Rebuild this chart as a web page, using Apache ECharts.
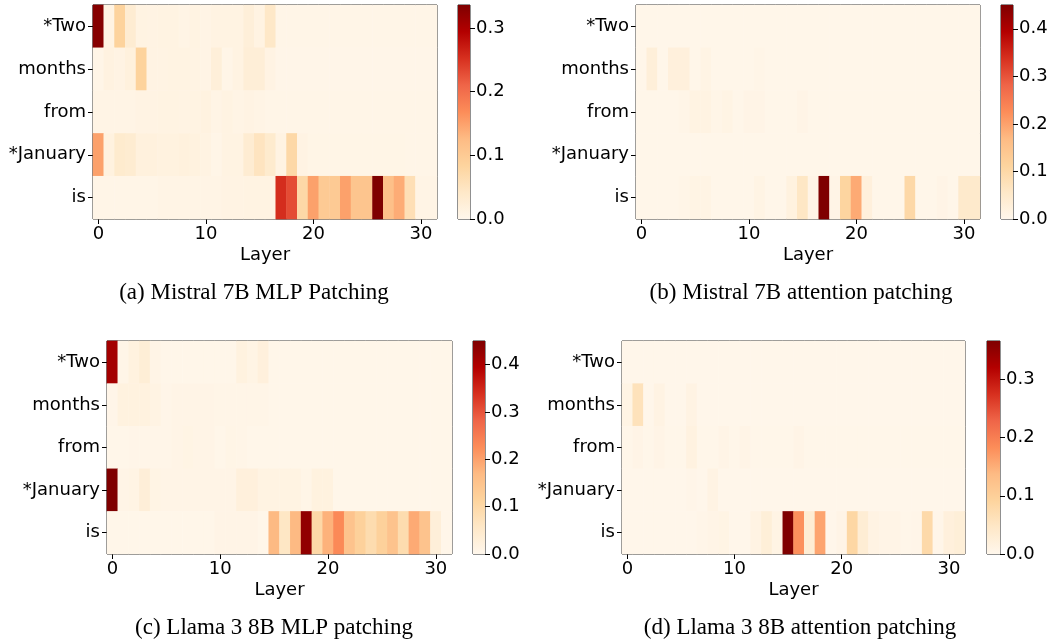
<!DOCTYPE html>
<html>
<head>
<meta charset="utf-8">
<script src="https://cdn.jsdelivr.net/npm/echarts@6/dist/echarts.min.js"></script>
<style>
html,body{margin:0;padding:0;background:#fff;}
#chart{width:1052px;height:644px;}
</style>
</head>
<body>
<div id="chart"></div>
<script>
// ---- DATA ----
const tokens = ['*Two', 'months', 'from', '*January', 'is'];
const layers = ['0','1','2','3','4','5','6','7','8','9','10','11','12','13','14','15','16','17','18','19','20','21','22','23','24','25','26','27','28','29','30','31'];
const layerTicks = ['0', '10', '20', '30'];

// (a) Mistral 7B MLP patching — rows: *Two, months, from, *January, is
const mistralMlp = [
  [0.33,0.012,0.085,0.03,0.012,0.01,0.012,0.012,0.008,0.012,0.008,0.012,0.012,0.012,0.022,0.012,0.042,0.006,0.006,0.006,0.006,0.006,0.006,0.006,0.006,0.006,0.006,0.006,0.006,0.006,0.006,0.006],
  [0.006,0.014,0.01,0.018,0.085,0.01,0.01,0.012,0.012,0.01,0.008,0.022,0.006,0.012,0.025,0.025,0.01,0.005,0.005,0.005,0.005,0.005,0.005,0.005,0.005,0.005,0.005,0.005,0.005,0.005,0.005,0.005],
  [0.008,0.008,0.008,0.008,0.01,0.01,0.012,0.012,0.01,0.012,0.014,0.008,0.012,0.008,0.01,0.008,0.006,0.006,0.006,0.006,0.006,0.006,0.006,0.006,0.006,0.006,0.006,0.006,0.006,0.006,0.006,0.006],
  [0.15,0.015,0.035,0.032,0.018,0.018,0.015,0.015,0.018,0.015,0.012,0.006,0.012,0.012,0.03,0.05,0.035,0.012,0.075,0.01,0.007,0.007,0.007,0.007,0.007,0.007,0.007,0.007,0.007,0.006,0.006,0.006],
  [0.006,0.006,0.006,0.006,0.006,0.006,0.008,0.008,0.008,0.008,0.008,0.008,0.01,0.01,0.012,0.012,0.012,0.255,0.23,0.075,0.15,0.1,0.1,0.15,0.11,0.11,0.336,0.118,0.14,0.06,0.008,0.008]
];
// (b) Mistral 7B attention patching
const mistralAttn = [
  [0.004,0.004,0.004,0.004,0.004,0.004,0.004,0.004,0.004,0.004,0.004,0.004,0.004,0.004,0.004,0.004,0.004,0.004,0.004,0.004,0.004,0.004,0.004,0.004,0.004,0.004,0.004,0.004,0.004,0.004,0.004,0.004],
  [0.004,0.03,0.004,0.025,0.025,0.004,0.012,0.005,0.005,0.005,0.005,0.008,0.004,0.004,0.004,0.004,0.004,0.004,0.004,0.004,0.004,0.004,0.004,0.004,0.004,0.004,0.004,0.004,0.004,0.004,0.004,0.004],
  [0.004,0.004,0.004,0.004,0.008,0.015,0.015,0.008,0.012,0.005,0.01,0.01,0.005,0.005,0.005,0.01,0.004,0.004,0.004,0.004,0.004,0.004,0.004,0.004,0.004,0.004,0.004,0.004,0.004,0.004,0.004,0.004],
  [0.004,0.004,0.004,0.004,0.004,0.004,0.004,0.004,0.004,0.004,0.004,0.004,0.004,0.004,0.005,0.005,0.005,0.005,0.005,0.005,0.005,0.005,0.005,0.005,0.005,0.005,0.005,0.005,0.005,0.005,0.005,0.005],
  [0.004,0.004,0.004,0.004,0.008,0.012,0.012,0.005,0.005,0.005,0.005,0.012,0.005,0.005,0.02,0.06,0.01,0.45,0.01,0.11,0.19,0.025,0.005,0.005,0.005,0.1,0.005,0.005,0.01,0.005,0.05,0.05]
];
// (c) Llama 3 8B MLP patching
const llamaMlp = [
  [0.41,0.008,0.02,0.035,0.01,0.005,0.005,0.005,0.005,0.005,0.005,0.005,0.02,0.012,0.025,0.004,0.004,0.004,0.004,0.004,0.004,0.004,0.004,0.004,0.004,0.004,0.004,0.004,0.004,0.004,0.004,0.004],
  [0.006,0.02,0.02,0.02,0.014,0.006,0.01,0.01,0.01,0.01,0.008,0.008,0.008,0.008,0.008,0.004,0.004,0.004,0.004,0.004,0.004,0.004,0.004,0.004,0.004,0.004,0.004,0.004,0.004,0.004,0.004,0.004],
  [0.004,0.004,0.006,0.006,0.006,0.006,0.01,0.013,0.01,0.01,0.005,0.009,0.008,0.004,0.004,0.004,0.004,0.004,0.004,0.004,0.004,0.004,0.004,0.004,0.004,0.004,0.004,0.004,0.004,0.004,0.004,0.004],
  [0.45,0.01,0.013,0.032,0.013,0.01,0.01,0.01,0.01,0.01,0.01,0.01,0.025,0.025,0.015,0.015,0.015,0.015,0.008,0.02,0.02,0.005,0.005,0.005,0.005,0.005,0.005,0.005,0.005,0.005,0.005,0.005],
  [0.005,0.005,0.005,0.005,0.005,0.005,0.005,0.005,0.005,0.005,0.01,0.01,0.01,0.01,0.005,0.17,0.06,0.17,0.43,0.1,0.18,0.23,0.15,0.12,0.09,0.12,0.15,0.09,0.19,0.15,0.03,0.005]
];
// (d) Llama 3 8B attention patching
const llamaAttn = [
  [0.003,0.003,0.003,0.003,0.003,0.003,0.003,0.003,0.003,0.003,0.003,0.003,0.003,0.003,0.003,0.003,0.003,0.003,0.003,0.003,0.003,0.003,0.003,0.003,0.003,0.003,0.003,0.003,0.003,0.003,0.003,0.003],
  [0.01,0.06,0.003,0.012,0.003,0.003,0.012,0.003,0.003,0.003,0.003,0.003,0.003,0.003,0.003,0.003,0.003,0.003,0.003,0.003,0.003,0.003,0.003,0.003,0.003,0.003,0.003,0.003,0.003,0.003,0.003,0.003],
  [0.004,0.008,0.004,0.008,0.004,0.004,0.015,0.004,0.004,0.008,0.004,0.008,0.004,0.004,0.004,0.004,0.008,0.004,0.004,0.004,0.004,0.004,0.004,0.004,0.004,0.004,0.004,0.004,0.004,0.004,0.004,0.004],
  [0.003,0.003,0.003,0.003,0.003,0.003,0.005,0.003,0.012,0.003,0.003,0.003,0.003,0.003,0.003,0.003,0.003,0.003,0.003,0.003,0.003,0.003,0.003,0.003,0.003,0.003,0.003,0.003,0.003,0.003,0.003,0.003],
  [0.003,0.003,0.003,0.003,0.003,0.003,0.003,0.005,0.008,0.01,0.003,0.003,0.012,0.025,0.01,0.366,0.18,0.03,0.16,0.003,0.008,0.085,0.03,0.012,0.008,0.008,0.004,0.005,0.08,0.005,0.02,0.025]
];

const colorMax = [0.336, 0.45, 0.45, 0.366];
const colorTicks = [0.0, 0.1, 0.2, 0.3, 0.4];
const captions = ['(a) Mistral 7B MLP Patching', '(b) Mistral 7B attention patching', '(c) Llama 3 8B MLP patching', '(d) Llama 3 8B attention patching'];

// ---- STYLE / LAYOUT ----
const OrRd = ['#fff7ec','#fee8c8','#fdd49e','#fdbb84','#fc8d59','#ef6548','#d7301f','#b30000','#7f0000'];
const panels = [mistralMlp, mistralAttn, llamaMlp, llamaAttn];
const heatGrids = [
  {left: 93, top: 5, width: 344, height: 214},
  {left: 636, top: 5, width: 344, height: 214},
  {left: 107, top: 341, width: 345, height: 213},
  {left: 622, top: 341, width: 343, height: 213}
];
const barGrids = [
  {left: 458, top: 5, width: 12, height: 214},
  {left: 1001, top: 5, width: 12, height: 214},
  {left: 473, top: 341, width: 12, height: 213},
  {left: 987, top: 341, width: 13, height: 213}
];
const capPos = [[254, 293], [801, 293], [274, 628], [800, 628]];
const FONT = 'DejaVu Sans';

const grid = [], xAxis = [], yAxis = [], series = [], visualMap = [], graphic = [];
const tickShow = (i) => layerTicks.indexOf(layers[i]) >= 0;

panels.forEach((m, p) => {
  grid.push(Object.assign({show: true, borderColor: '#000', borderWidth: 1, containLabel: false}, heatGrids[p]));
  xAxis.push({
    type: 'category', gridIndex: p, data: layers,
    axisLine: {show: false},
    axisTick: {show: true, alignWithLabel: true, length: 5, interval: (i) => tickShow(i), lineStyle: {color: '#000'}},
    axisLabel: {interval: (i) => tickShow(i), color: '#000', fontFamily: FONT, fontSize: 18, margin: 6},
    name: 'Layer', nameLocation: 'middle', nameGap: 27,
    nameTextStyle: {color: '#000', fontFamily: FONT, fontSize: 18},
    splitLine: {show: false}
  });
  yAxis.push({
    type: 'category', gridIndex: p, data: tokens, inverse: true,
    axisLine: {show: false},
    axisTick: {show: true, alignWithLabel: true, length: 5, lineStyle: {color: '#000'}},
    axisLabel: {color: '#000', fontFamily: FONT, fontSize: 18, margin: 7, padding: [4, 0, 0, 0]},
    splitLine: {show: false}
  });
  const data = [];
  m.forEach((row, r) => row.forEach((v, c) => data.push([c, r, v])));
  series.push({
    type: 'heatmap', xAxisIndex: p, yAxisIndex: p, data: data,
    itemStyle: {borderWidth: 0}, emphasis: {disabled: true}, progressive: 0
  });
  visualMap.push({
    type: 'continuous', show: false, seriesIndex: p, dimension: 2,
    min: 0, max: colorMax[p], inRange: {color: OrRd}
  });
});

// colorbars
panels.forEach((m, p) => {
  const gi = 4 + p;
  const ticks = colorTicks.filter((t) => t <= colorMax[p]);
  grid.push(Object.assign({show: true, borderColor: '#222', borderWidth: 1, containLabel: false}, barGrids[p]));
  xAxis.push({type: 'category', gridIndex: gi, data: ['cb'], show: false, boundaryGap: true});
  yAxis.push({
    type: 'value', gridIndex: gi, min: 0, max: colorMax[p], position: 'right',
    axisLine: {show: false},
    axisTick: {show: true, length: 5, lineStyle: {color: '#000'}, customValues: ticks},
    axisLabel: {color: '#000', fontFamily: FONT, fontSize: 18, margin: 6, customValues: ticks,
      padding: [2, 0, 0, 0], formatter: (v) => v.toFixed(1)},
    splitLine: {show: false}
  });
  series.push({
    type: 'bar', xAxisIndex: gi, yAxisIndex: gi, data: [colorMax[p]], barWidth: '100%',
    silent: true,
    itemStyle: {color: {type: 'linear', x: 0, y: 1, x2: 0, y2: 0,
      colorStops: OrRd.map((c, i) => ({offset: i / (OrRd.length - 1), color: c}))}}
  });
});

captions.forEach((t, p) => {
  graphic.push({type: 'text', x: capPos[p][0], y: capPos[p][1],
    style: {text: t, fill: '#000', font: '23px "Liberation Serif"', textAlign: 'center', textVerticalAlign: 'middle'}});
});

const chart = echarts.init(document.getElementById('chart'), null, {renderer: 'canvas'});
chart.setOption({
  animation: false,
  backgroundColor: '#fff',
  grid, xAxis, yAxis, series, visualMap, graphic
});
</script>
</body>
</html>
